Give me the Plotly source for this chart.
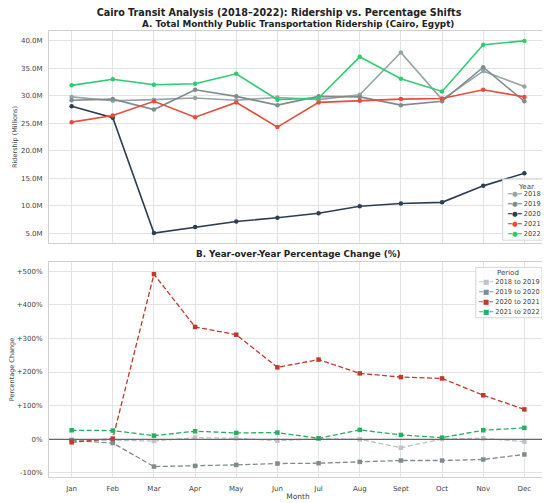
import plotly.graph_objects as go
from plotly.subplots import make_subplots

months = ["Jan", "Feb", "Mar", "Apr", "May", "Jun", "Jul", "Aug", "Sept", "Oct", "Nov", "Dec"]

# monthly ridership, millions
ridership_2018 = [29.8, 29.1, 29.3, 29.6, 29.2, 29.7, 29.3, 30.2, 37.9, 29.3, 34.5, 31.7]
ridership_2019 = [29.2, 29.4, 27.5, 31.1, 29.9, 28.3, 29.9, 29.8, 28.3, 29.0, 35.2, 29.0]
ridership_2020 = [28.1, 26.0, 5.0, 6.1, 7.1, 7.8, 8.6, 9.9, 10.4, 10.6, 13.6, 15.9]
ridership_2021 = [25.2, 26.4, 29.0, 26.1, 28.8, 24.3, 28.8, 29.1, 29.4, 29.5, 31.1, 29.8]
ridership_2022 = [31.9, 33.0, 32.0, 32.2, 34.0, 29.3, 29.6, 37.1, 33.1, 30.8, 39.3, 40.0]

# year-over-year change, percent
pct_18_19 = [-1, -2, -5, 5, 3, -4, 2, 0, -25, 1, 3, -7]
pct_19_20 = [-3, -11, -81, -79, -76, -72, -71, -67, -63, -63, -60, -45]
pct_20_21 = [-9, 2, 491, 334, 311, 214, 237, 196, 185, 181, 131, 89]
pct_21_22 = [27, 26, 11, 24, 19, 20, 3, 28, 13, 5, 27, 34]

ridership_ticks = [5, 10, 15, 20, 25, 30, 35, 40]
ridership_ticktext = ["5.0M", "10.0M", "15.0M", "20.0M", "25.0M", "30.0M", "35.0M", "40.0M"]
pct_ticks = [-100, 0, 100, 200, 300, 400, 500]
pct_ticktext = ["-100%", "0%", "+100%", "+200%", "+300%", "+400%", "+500%"]

years = [
    ("2018", ridership_2018, "#95a5a6"),
    ("2019", ridership_2019, "#7f8c8d"),
    ("2020", ridership_2020, "#2c3e50"),
    ("2021", ridership_2021, "#e74c3c"),
    ("2022", ridership_2022, "#2ecc71"),
]
periods = [
    ("2018 to 2019", pct_18_19, "#bdc3c7"),
    ("2019 to 2020", pct_19_20, "#7f8c8d"),
    ("2020 to 2021", pct_20_21, "#c0392b"),
    ("2021 to 2022", pct_21_22, "#27ae60"),
]

FONT = "DejaVu Sans"
GRID = "#e3e3e3"
EDGE = "#d0d0d0"
TXT = "#444444"

fig = make_subplots(rows=2, cols=1)

for name, vals, color in years:
    fig.add_trace(
        go.Scatter(
            x=months, y=vals, name=name, mode="lines+markers",
            line=dict(color=color, width=1.6),
            marker=dict(color=color, size=4.5, symbol="circle"),
        ),
        row=1, col=1,
    )

for name, vals, color in periods:
    fig.add_trace(
        go.Scatter(
            x=months, y=vals, name=name, mode="lines+markers",
            line=dict(color=color, width=1.3, dash="5px,2.5px"),
            marker=dict(color=color, size=4.5, symbol="square"),
        ),
        row=2, col=1,
    )

axis_common = dict(
    showgrid=True, gridcolor=GRID, gridwidth=1,
    showline=True, linecolor=EDGE, mirror=True, linewidth=1,
    zeroline=False, ticks="",
    tickfont=dict(family=FONT, size=7, color=TXT),
)

fig.update_xaxes(**axis_common, range=[-0.55, 11.55], domain=[0, 1])
fig.update_xaxes(showticklabels=False, row=1, col=1)
fig.update_xaxes(
    ticklabelstandoff=5,
    title=dict(text="Month", font=dict(family=FONT, size=7.5, color=TXT), standoff=1),
    row=2, col=1,
)
fig.update_yaxes(**axis_common, ticklabelstandoff=4)
fig.update_yaxes(
    range=[3.2, 41.8], tickvals=ridership_ticks, ticktext=ridership_ticktext,
    domain=[0.5247, 1],
    title=dict(text="Ridership (Millions)", font=dict(family=FONT, size=6.5, color=TXT), standoff=2),
    row=1, col=1,
)
fig.update_yaxes(
    range=[-112, 527], tickvals=pct_ticks, ticktext=pct_ticktext,
    domain=[0, 0.482],
    title=dict(text="Percentage Change", font=dict(family=FONT, size=6.5, color=TXT), standoff=2),
    row=2, col=1,
)

# zero reference line
fig.add_hline(y=0, line=dict(color="#666", width=1.2), row=2, col=1)


def add_legend_box(title, entries, glyph, box, title_pos, first_y, step, glyph_x):
    # matplotlib-like compact legend drawn with a shape + annotations
    x0, x1, y0, y1 = box
    fig.add_shape(
        type="rect", xref="paper", yref="paper", x0=x0, x1=x1, y0=y0, y1=y1,
        fillcolor="rgba(255,255,255,0.85)", line=dict(color="#d5d5d5", width=1),
        layer="above",
    )
    fig.add_annotation(
        text=title, xref="paper", yref="paper", x=title_pos[0], y=title_pos[1],
        xanchor="center", yanchor="middle", showarrow=False,
        font=dict(family=FONT, size=7, color=TXT),
    )
    for i, (name, _, color) in enumerate(entries):
        fig.add_annotation(
            text=f'<span style="color:{color}">{glyph}</span> {name}',
            xref="paper", yref="paper", x=glyph_x, y=first_y - i * step,
            xanchor="left", yanchor="middle", showarrow=False, borderpad=0,
            font=dict(family=FONT, size=6.6, color=TXT),
        )


add_legend_box(
    "Year", years, "\u2501\u25cf\u2501",
    box=(0.911, 0.998, 0.531, 0.668), title_pos=(0.958, 0.6496),
    first_y=0.634, step=0.0221, glyph_x=0.918,
)
add_legend_box(
    "Period", periods, "\u254d\u25a0\u254d",
    box=(0.857, 0.990, 0.357, 0.470), title_pos=(0.921, 0.4567),
    first_y=0.4365, step=0.0224, glyph_x=0.861,
)

fig.add_annotation(
    text="<b>A. Total Monthly Public Transportation Ridership (Cairo, Egypt)</b>",
    xref="paper", yref="paper", x=0.5, y=1.0, yanchor="bottom", yshift=1, borderpad=0,
    showarrow=False, font=dict(family=FONT, size=8.8, color="#222"),
)
fig.add_annotation(
    text="<b>B. Year-over-Year Percentage Change (%)</b>",
    xref="paper", yref="paper", x=0.5, y=0.482, yanchor="bottom", yshift=2, borderpad=0,
    showarrow=False, font=dict(family=FONT, size=8.8, color="#222"),
)

# page adds an 8px body margin, so the figure is kept 8px smaller each way
fig.update_layout(
    width=542, height=495,
    margin=dict(l=35, r=2, t=23, b=26),
    paper_bgcolor="white", plot_bgcolor="white",
    showlegend=False,
    title=dict(
        text="<b>Cairo Transit Analysis (2018\u20132022): Ridership vs. Percentage Shifts</b>",
        x=0.5, xanchor="center", y=0.9903, yanchor="middle",
        font=dict(family=FONT, size=9.6, color="#222"),
    ),
    font=dict(family=FONT),
)

fig.write_html("out.html")
